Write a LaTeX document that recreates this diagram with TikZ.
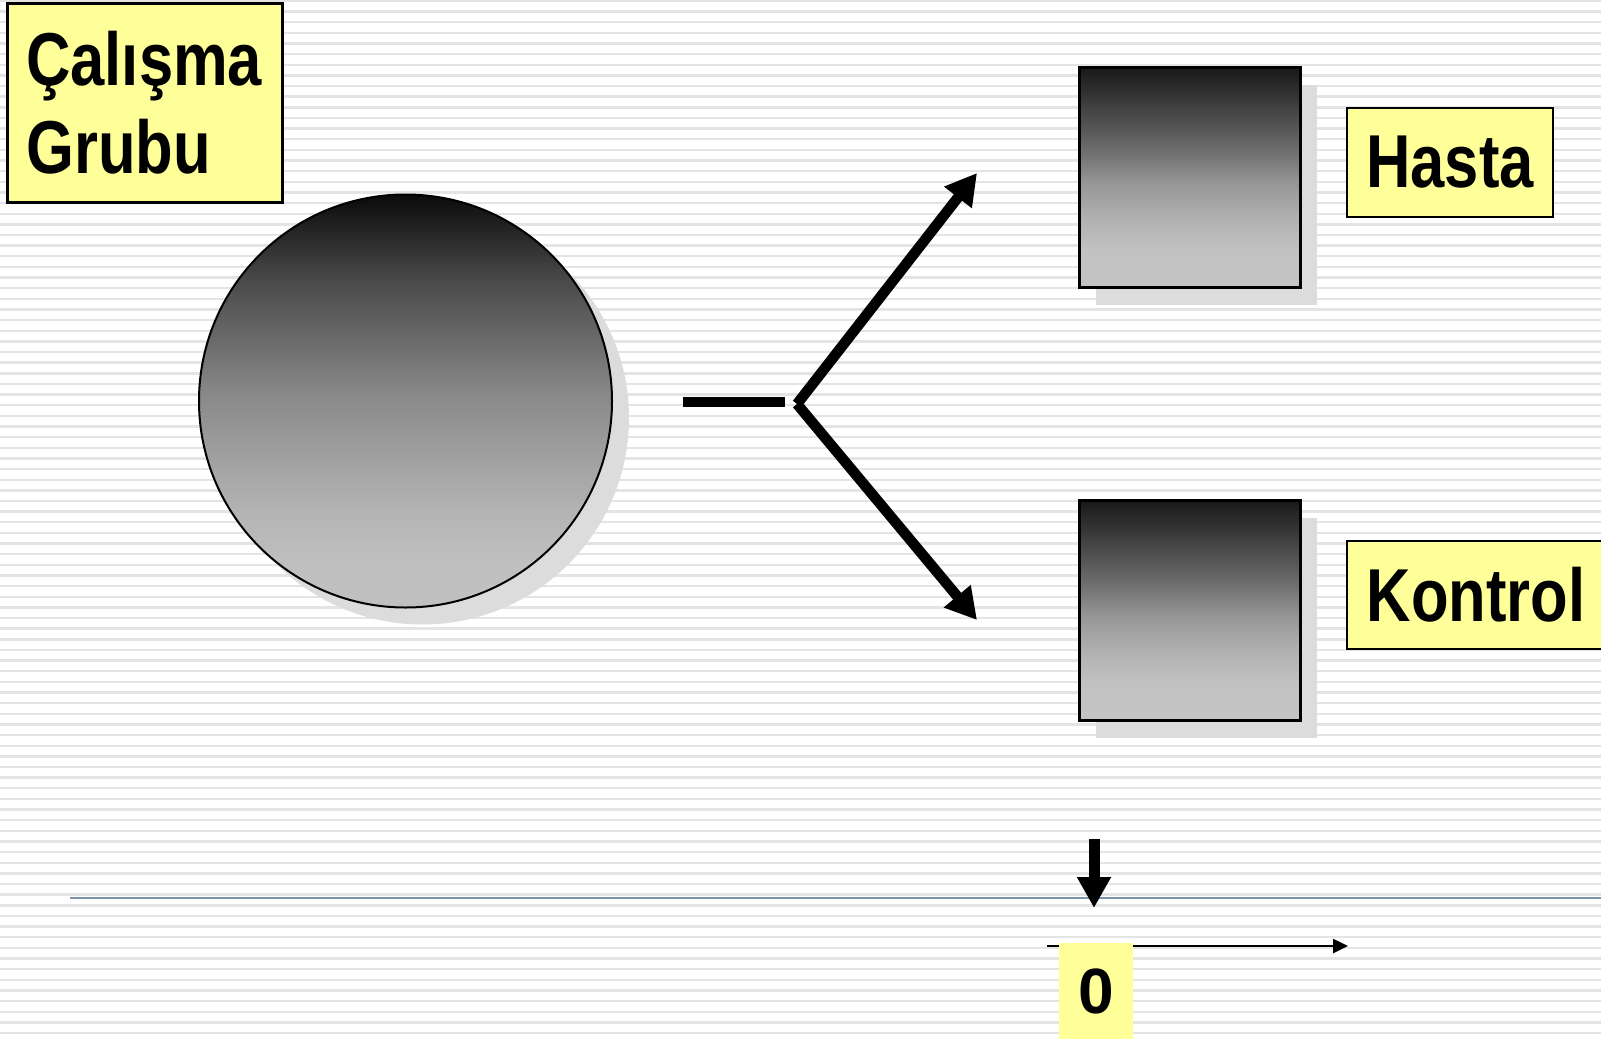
\documentclass[tikz,border=0pt]{standalone}
\usepackage{fontspec}
\setmainfont{Liberation Sans}
\newfontfamily\narb[FakeStretch=0.82]{Liberation Sans}
\usetikzlibrary{arrows.meta,shadows}
\definecolor{labfill}{HTML}{FFFF99}
\definecolor{stripecol}{HTML}{E4E4E4}
\definecolor{shadowcol}{HTML}{DCDCDC}
\definecolor{axiscol}{HTML}{7D94AE}
\definecolor{ga}{HTML}{0A0A0A}
\definecolor{gb}{HTML}{4A4A4A}
\definecolor{gc}{HTML}{8A8A8A}
\definecolor{gd}{HTML}{B4B4B4}
\definecolor{ge}{HTML}{C0C0C0}
\definecolor{sa}{HTML}{181818}
\definecolor{sb}{HTML}{6E6E6E}
\definecolor{sc}{HTML}{959595}
\definecolor{sd}{HTML}{B0B0B0}
\definecolor{se}{HTML}{C2C2C2}
\definecolor{sf}{HTML}{C4C4C4}
\pgfdeclareverticalshading{circsh}{100bp}{color(0bp)=(ge); color(25bp)=(ge); color(30bp)=(ge); color(36.5bp)=(gd); color(50.5bp)=(gc); color(64.5bp)=(gb); color(75bp)=(ga); color(100bp)=(ga)}
\pgfdeclareverticalshading{sqsh}{100bp}{color(0bp)=(sf); color(25bp)=(sf); color(33.5bp)=(se); color(41bp)=(sd); color(49bp)=(sc); color(56bp)=(sb); color(75bp)=(sa); color(100bp)=(sa)}
\tikzset{
  stripe/.style={draw=stripecol, line width=2.4pt},
  shad/.style={drop shadow={shadow xshift=#1, shadow yshift=-17pt, opacity=1, fill=shadowcol}},
  ballnode/.style={circle, draw=black, line width=2pt, shading=circsh, minimum size=413pt, inner sep=0pt},
  sqnode/.style={rectangle, draw=black, line width=3pt, shading=sqsh, minimum width=221pt, minimum height=220pt, inner sep=0pt},
  labbox/.style={rectangle, draw=black, fill=labfill, inner sep=0pt, font=\narb\bfseries\fontsize{75}{88}\selectfont},
  bigarrow/.style={line width=10.5pt, -{Triangle[length=31pt,width=33pt]}},
  dashline/.style={line width=10pt},
  downarrow/.style={line width=11pt, -{Triangle[length=31pt,width=32pt]}},
  timearrow/.style={line width=2.5pt, -{Triangle[length=15pt,width=14pt]}}
}
\begin{document}
\begin{tikzpicture}[x=1pt,y=-1pt]
\useasboundingbox (0,0) rectangle (1601,1042);
\clip (0,0) rectangle (1601,1042);
\fill[white] (0,0) rectangle (1601,1042);
\foreach \k in {0,...,97} {
  \draw[stripe] (0,{0.9+10.64*\k}) -- (1601,{0.9+10.64*\k});
}
% axis line
\coordinate (ax1) at (70,898);
\coordinate (ax2) at (1601,898);
\draw[axiscol, line width=2.4pt] (ax1) -- (ax2);

% circle
\node[ballnode, shad=17pt] (grp) at (405.5,401) {};
% squares
\node[sqnode, shad=16pt] (sq1) at (1190,177.5) {};
\node[sqnode, shad=16pt] (sq2) at (1190,610.5) {};

% dash and arrows
\coordinate (d1) at (683,402);
\coordinate (d2) at (785,402);
\draw[dashline] (d1) -- (d2);
\coordinate (v) at (797,404);
\coordinate (t1) at (977,173);
\coordinate (t2) at (977,620);
\draw[bigarrow] (v) -- (t1);
\draw[bigarrow] (v) -- (t2);

% labels
\node[labbox, line width=2.5pt, minimum width=275pt, minimum height=199pt, text width=237pt, align=left, anchor=north west] (lab1) at (6,2) {Çalışma\\Grubu};
\node[labbox, line width=2pt, minimum width=206pt, minimum height=109pt] (lab2) at (1450,162.5) {Hasta};
\node[labbox, line width=2pt, minimum width=258pt, minimum height=108pt] (lab3) at (1476,595) {Kontrol};

% time axis
\coordinate (da1) at (1094,839);
\coordinate (da2) at (1094,908);
\draw[downarrow] (da1) -- (da2);
\coordinate (ta1) at (1047,946);
\coordinate (ta2) at (1348,946);
\draw[timearrow] (ta1) -- (ta2);
\node[fill=labfill, inner sep=0pt, minimum width=74pt, minimum height=96pt, font=\bfseries\fontsize{64}{70}\selectfont] (zero) at (1096,991) {0};
\end{tikzpicture}
\end{document}
